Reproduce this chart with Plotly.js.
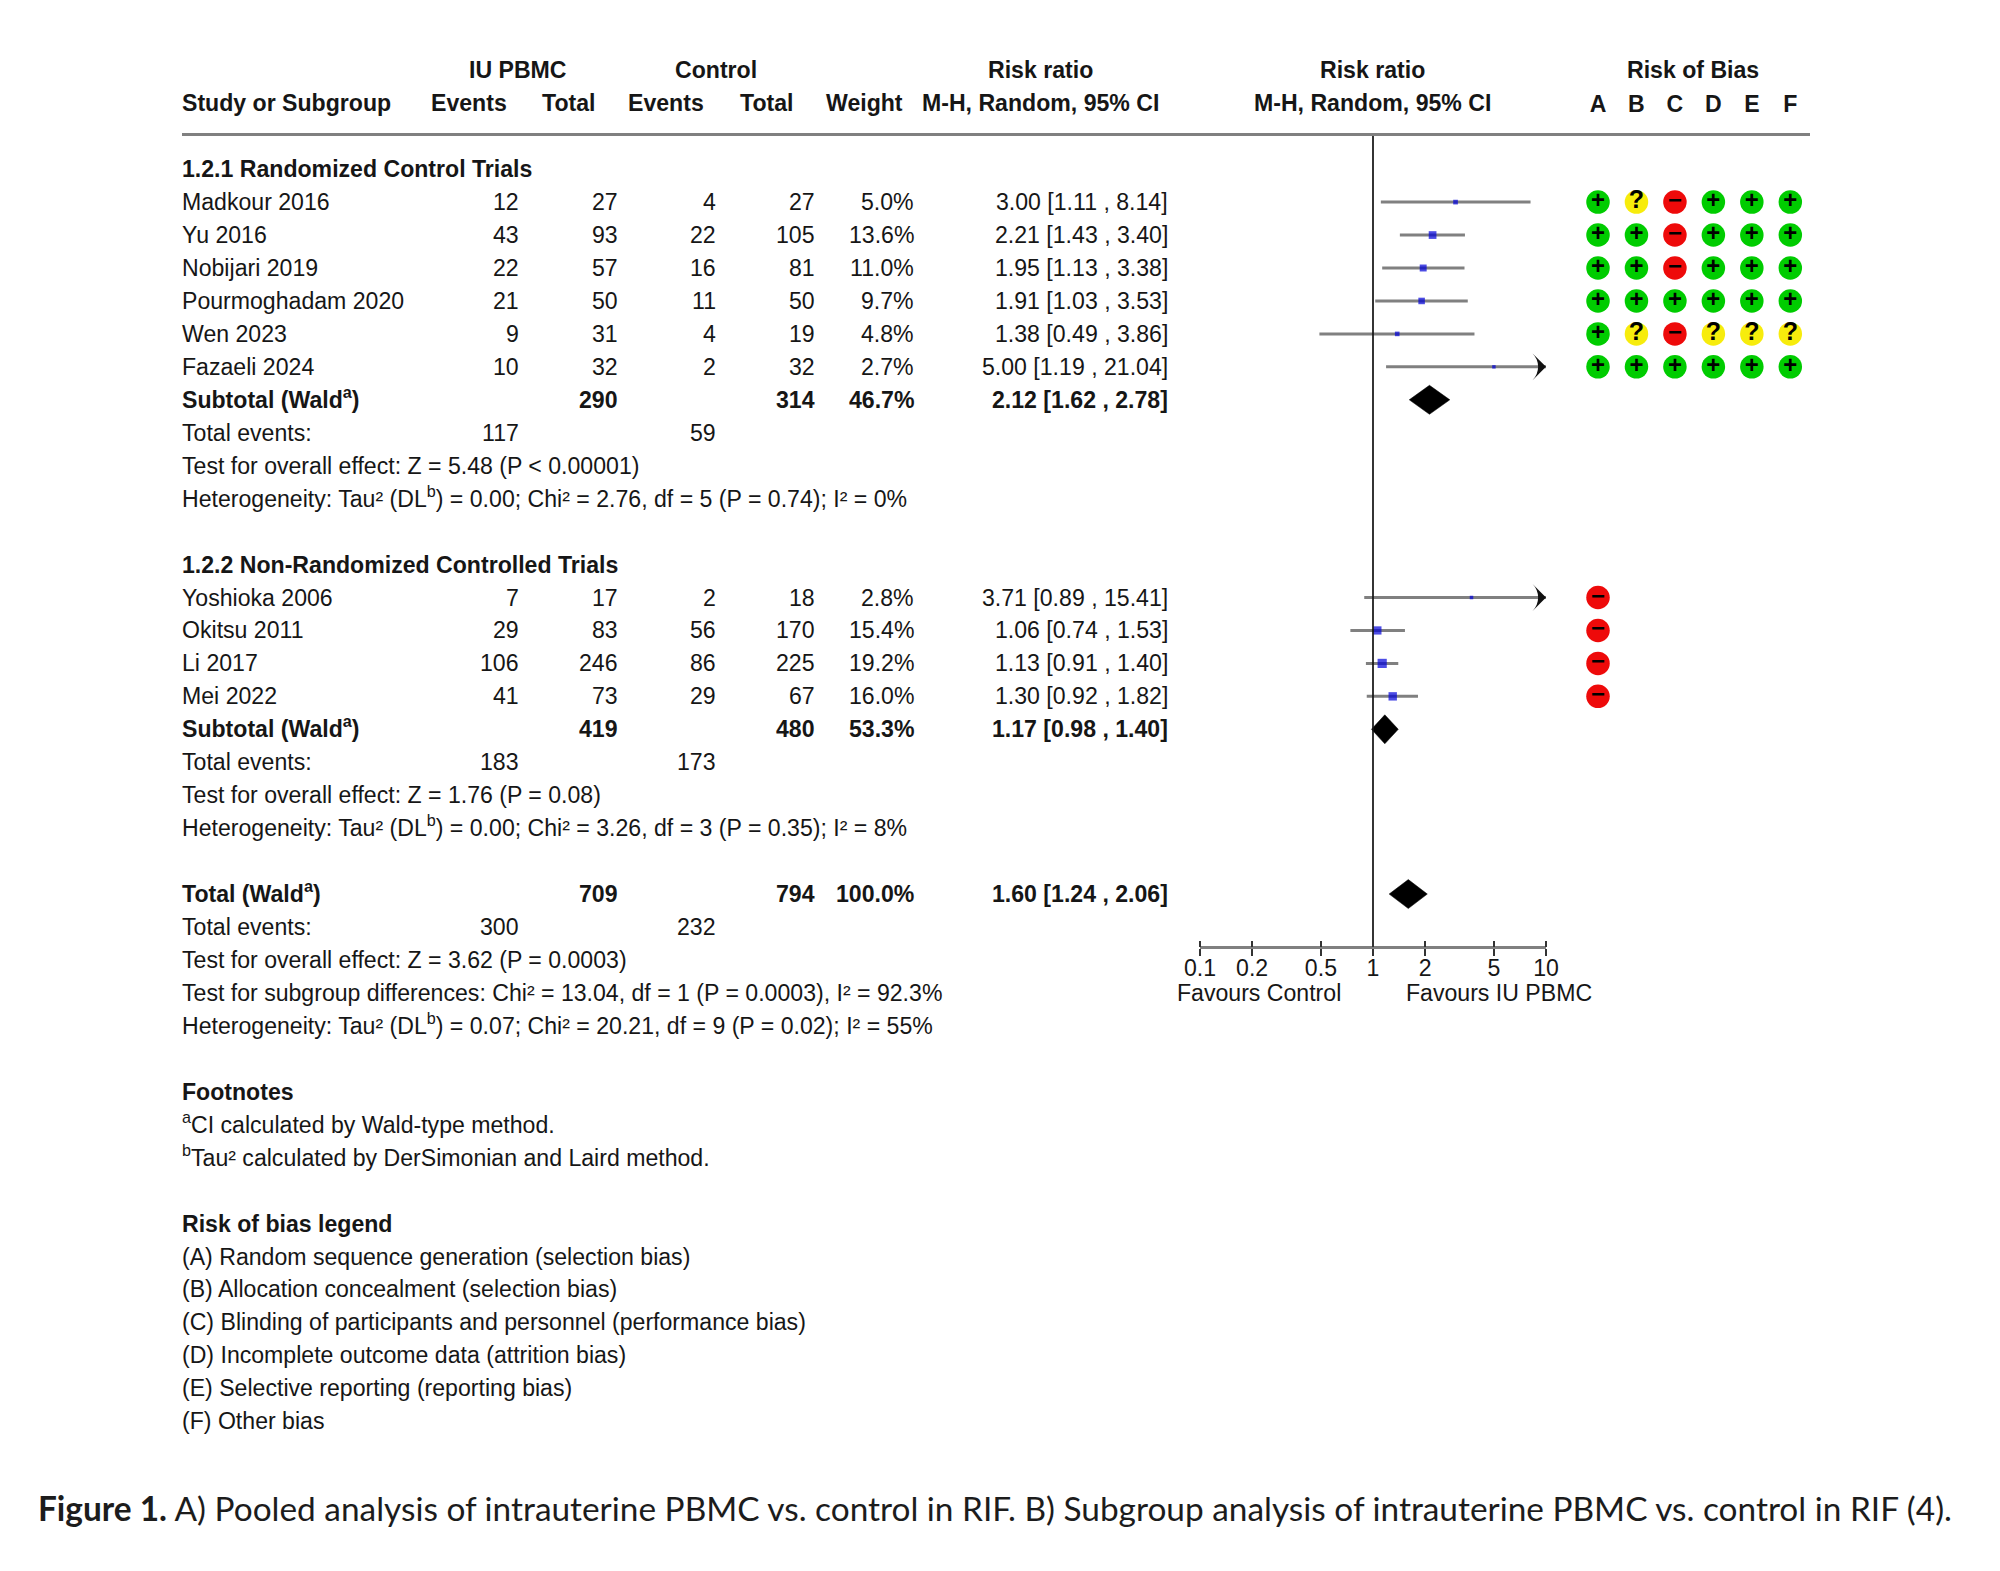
<!DOCTYPE html>
<html><head><meta charset="utf-8">
<script src="https://cdn.plot.ly/plotly-3.0.1.min.js"></script>
<style>html,body{margin:0;padding:0;background:#fff}#chart{width:2000px;height:1571px}</style>
</head><body><div id="chart"></div>
<script>
// ---------- data ----------
const studiesA = ["Madkour 2016","Yu 2016","Nobijari 2019","Pourmoghadam 2020","Wen 2023","Fazaeli 2024"];
const studiesB = ["Yoshioka 2006","Okitsu 2011","Li 2017","Mei 2022"];
const eventsIU = [12,43,22,21,9,10, 7,29,106,41];
const totalIU = [27,93,57,50,31,32, 17,83,246,73];
const eventsCtl = [4,22,16,11,4,2, 2,56,86,29];
const totalCtl = [27,105,81,50,19,32, 18,170,225,67];
const weights = [5.0,13.6,11.0,9.7,4.8,2.7, 2.8,15.4,19.2,16.0];
const rr = [3.00,2.21,1.95,1.91,1.38,5.00, 3.71,1.06,1.13,1.30];
const rrLow = [1.11,1.43,1.13,1.03,0.49,1.19, 0.89,0.74,0.91,0.92];
const rrHigh = [8.14,3.40,3.38,3.53,3.86,21.04, 15.41,1.53,1.40,1.82];
const pooledNames = ["Subtotal (Wald<sup>a</sup>)","Subtotal (Wald<sup>a</sup>)","Total (Wald<sup>a</sup>)"];
const pooledIU = [290,419,709];
const pooledCtl = [314,480,794];
const pooledWeight = ["46.7%","53.3%","100.0%"];
const pooledRR = [2.12,1.17,1.60];
const pooledLow = [1.62,0.98,1.24];
const pooledHigh = [2.78,1.40,2.06];
const totalEventsIU = [117,183,300];
const totalEventsCtl = [59,173,232];
const groupTitles = ["1.2.1 Randomized Control Trials","1.2.2 Non-Randomized Controlled Trials"];
const notesA = ["Test for overall effect: Z = 5.48 (P < 0.00001)","Heterogeneity: Tau² (DL<sup>b</sup>) = 0.00; Chi² = 2.76, df = 5 (P = 0.74); I² = 0%"];
const notesB = ["Test for overall effect: Z = 1.76 (P = 0.08)","Heterogeneity: Tau² (DL<sup>b</sup>) = 0.00; Chi² = 3.26, df = 3 (P = 0.35); I² = 8%"];
const notesT = ["Test for overall effect: Z = 3.62 (P = 0.0003)","Test for subgroup differences: Chi² = 13.04, df = 1 (P = 0.0003), I² = 92.3%","Heterogeneity: Tau² (DL<sup>b</sup>) = 0.07; Chi² = 20.21, df = 9 (P = 0.02); I² = 55%"];
const footnotes = ["<sup>a</sup>CI calculated by Wald-type method.","<sup>b</sup>Tau² calculated by DerSimonian and Laird method."];
const robLegend = ["(A) Random sequence generation (selection bias)","(B) Allocation concealment (selection bias)","(C) Blinding of participants and personnel (performance bias)","(D) Incomplete outcome data (attrition bias)","(E) Selective reporting (reporting bias)","(F) Other bias"];
const robColumns = ["A","B","C","D","E","F"];
const robRatings = ["+?-+++","++-+++","++-+++","++++++","+?-???","++++++","-","-","-","-"];
const axisTicks = [0.1,0.2,0.5,1,2,5,10];
const axisTickText = ["0.1","0.2","0.5","1","2","5","10"];

// ---------- page geometry ----------
const W=2000,H=1571,PITCH=32.95,ROW0=70.3;
const rowOf=px=>(px-ROW0)/PITCH;
const studyRows=[4,5,6,7,8,9,16,17,18,19];
const pooledRows=[10,20,25];
const eventsRows=[11,21,26];
const COL={left:180.6,evIU:519.5,totIU:618.5,evC:716.5,totC:815.5,wt:914.5,rr:1168.5};
const FS=23.1, INK="#161616";
const ciText=i=>`${rr[i].toFixed(2)} [${rrLow[i].toFixed(2)} , ${rrHigh[i].toFixed(2)}]`;

const ann=[];
function t(px,row,text,anchor,bold){
  const s=String(text);
  const lift=s.includes("<sup>")?2:0;
  ann.push({xref:"paper",yref:"y",x:px/W,y:row,yshift:lift,text:bold?`<b>${s}</b>`:s,showarrow:false,
    xanchor:anchor||"left",yanchor:"middle",borderpad:0,
    font:{family:"Liberation Sans",size:FS,color:INK}});
}
// headers
t(518,0,"IU PBMC","center",1); t(715.5,0,"Control","center",1); t(1040.8,0,"Risk ratio","center",1);
t(1372.5,0,"Risk ratio","center",1); t(1692.6,0,"Risk of Bias","center",1);
t(COL.left,1,"Study or Subgroup","left",1); t(469,1,"Events","center",1); t(568.6,1,"Total","center",1);
t(666.4,1,"Events","center",1); t(766,1,"Total","center",1); t(864,1,"Weight","center",1);
t(1040.8,1,"M-H, Random, 95% CI","center",1); t(1372.5,1,"M-H, Random, 95% CI","center",1);
t(COL.left,3,groupTitles[0],"left",1); t(COL.left,15,groupTitles[1],"left",1);
// studies
studiesA.concat(studiesB).forEach((s,i)=>{const r=studyRows[i];
  t(COL.left,r,s); t(COL.evIU,r,eventsIU[i],"right"); t(COL.totIU,r,totalIU[i],"right");
  t(COL.evC,r,eventsCtl[i],"right"); t(COL.totC,r,totalCtl[i],"right");
  t(COL.wt,r,weights[i].toFixed(1)+"%","right"); t(COL.rr,r,ciText(i),"right");
});
// pooled rows
pooledRows.forEach((r,i)=>{
  t(COL.left,r,pooledNames[i],"left",1); t(COL.totIU,r,pooledIU[i],"right",1); t(COL.totC,r,pooledCtl[i],"right",1);
  t(COL.wt,r,pooledWeight[i],"right",1);
  t(COL.rr,r,`${pooledRR[i].toFixed(2)} [${pooledLow[i].toFixed(2)} , ${pooledHigh[i].toFixed(2)}]`,"right",1);
  const e=eventsRows[i];
  t(COL.left,e,"Total events:"); t(COL.evIU,e,totalEventsIU[i],"right"); t(COL.evC,e,totalEventsCtl[i],"right");
});
notesA.forEach((n,i)=>t(COL.left,12+i,n));
notesB.forEach((n,i)=>t(COL.left,22+i,n));
notesT.forEach((n,i)=>t(COL.left,27+i,n));
t(COL.left,31,"Footnotes","left",1);
footnotes.forEach((n,i)=>t(COL.left,32+i,n));
t(COL.left,35,"Risk of bias legend","left",1);
robLegend.forEach((n,i)=>t(COL.left,36+i,n));
t(1259,rowOf(993.2),"Favours Control","center");
t(1499,rowOf(993.2),"Favours IU PBMC","center");
// caption
ann.push({xref:"paper",yref:"y",x:37/W,y:rowOf(1507.5),showarrow:false,xanchor:"left",yanchor:"middle",borderpad:0,
  text:"<b>Figure 1.</b> A) Pooled analysis of intrauterine PBMC vs. control in RIF. B) Subgroup analysis of intrauterine PBMC vs. control in RIF (4).",
  font:{family:"Lato",size:33.4,color:"#1c1c1c"}});

// ---------- traces ----------
const traces=[];
traces.push({type:"scatter",mode:"lines",xaxis:"x2",yaxis:"y",x:[1,1],y:[rowOf(135),rowOf(954)],
  line:{color:"#111",width:1.7},hoverinfo:"skip"});
traces.push({type:"scatter",mode:"markers",xaxis:"x",yaxis:"y",x:rr,y:studyRows,
  marker:{symbol:"square",color:"#0000d8",size:weights.map(w=>2.1*Math.sqrt(w)),line:{width:0}},
  error_x:{type:"data",symmetric:false,array:rrHigh.map((h,i)=>h-rr[i]),arrayminus:rrLow.map((l,i)=>rr[i]-l),
    color:"#808080",thickness:3,width:0}});
// clipped upper limits get an arrowhead on the axis limit
const clipped=rrHigh.map((h,i)=>h>10?i:-1).filter(i=>i>=0);
traces.push({type:"scatter",mode:"markers",xaxis:"x",yaxis:"y",cliponaxis:false,
  x:clipped.map(()=>axisTicks[axisTicks.length-1]),y:clipped.map(i=>studyRows[i]),
  marker:{symbol:"arrow-wide",angle:90,size:19,color:"#111",line:{width:0}}});
// pooled diamonds
const DH=0.44;
pooledRows.forEach((r,i)=>traces.push({type:"scatter",mode:"lines",xaxis:"x",yaxis:"y",fill:"toself",fillcolor:"#000",
  line:{color:"#000",width:0.5},
  x:[pooledLow[i],pooledRR[i],pooledHigh[i],pooledRR[i],pooledLow[i]],
  y:[r,r-DH,r,r+DH,r]}));
// risk of bias grid
const rob={"+":{c:"#00cc00",s:"+"},"?":{c:"#f7ec0c",s:"?"},"-":{c:"#ee0a0a",s:"−"}};
Object.keys(rob).forEach(k=>{
  const x=[],y=[];
  robRatings.forEach((row,i)=>[...row].forEach((v,j)=>{if(v===k){x.push(robColumns[j]);y.push(studyRows[i]);}}));
  traces.push({type:"scatter",mode:"markers+text",xaxis:"x3",yaxis:"y",x,y,cliponaxis:false,
    text:x.map(()=>rob[k].s),textposition:"middle center",
    textfont:{family:"Liberation Sans",size:k==="?"?25:24,color:"#000",weight:700},
    marker:{symbol:"circle",size:23.5,color:rob[k].c,line:{width:0}}});
});

// ---------- layout ----------
const axPos=1-947.3/H;
const dom0=1200/W,dom1=1546/W;
const layout={
  width:W,height:H,margin:{l:0,r:0,t:0,b:0,pad:0},paper_bgcolor:"#fff",plot_bgcolor:"rgba(0,0,0,0)",
  showlegend:false,font:{family:"Liberation Sans",color:INK},
  yaxis:{domain:[0,1],range:[rowOf(H),rowOf(0)],visible:false,fixedrange:true},
  xaxis:{type:"log",range:[-1,1],domain:[dom0,dom1],anchor:"free",position:axPos,side:"bottom",
    showgrid:false,zeroline:false,showline:true,linecolor:"#808080",linewidth:3,
    ticks:"outside",ticklen:6.5,tickwidth:1.5,tickcolor:"#333",tickmode:"array",
    tickvals:axisTicks,ticktext:axisTickText,tickangle:0,ticklabelstandoff:-8,
    tickfont:{family:"Liberation Sans",size:FS,color:INK}},
  xaxis2:{type:"log",range:[-1,1],domain:[dom0,dom1],anchor:"free",position:axPos,side:"top",overlaying:"x",
    showgrid:false,zeroline:false,showline:false,ticks:"outside",ticklen:6.5,tickwidth:1.5,tickcolor:"#333",
    tickmode:"array",tickvals:axisTicks,showticklabels:false},
  xaxis3:{type:"category",categoryorder:"array",categoryarray:robColumns,tickmode:"array",tickvals:robColumns,ticktext:robColumns.map(c=>`<b>${c}</b>`),
    range:[-0.5,5.5],domain:[(1598-19.23)/W,(1790.3+19.23)/W],anchor:"free",position:1-116.5/H,side:"top",
    showgrid:false,zeroline:false,showline:false,ticks:"",tickangle:0,
    tickfont:{family:"Liberation Sans",size:FS,color:INK}},
  shapes:[{type:"line",xref:"paper",yref:"y",x0:182/W,x1:1810/W,y0:rowOf(134.5),y1:rowOf(134.5),line:{color:"#808080",width:3}}],
  annotations:ann
};
Plotly.newPlot("chart",traces,layout,{displayModeBar:false,staticPlot:true});
</script></body></html>
